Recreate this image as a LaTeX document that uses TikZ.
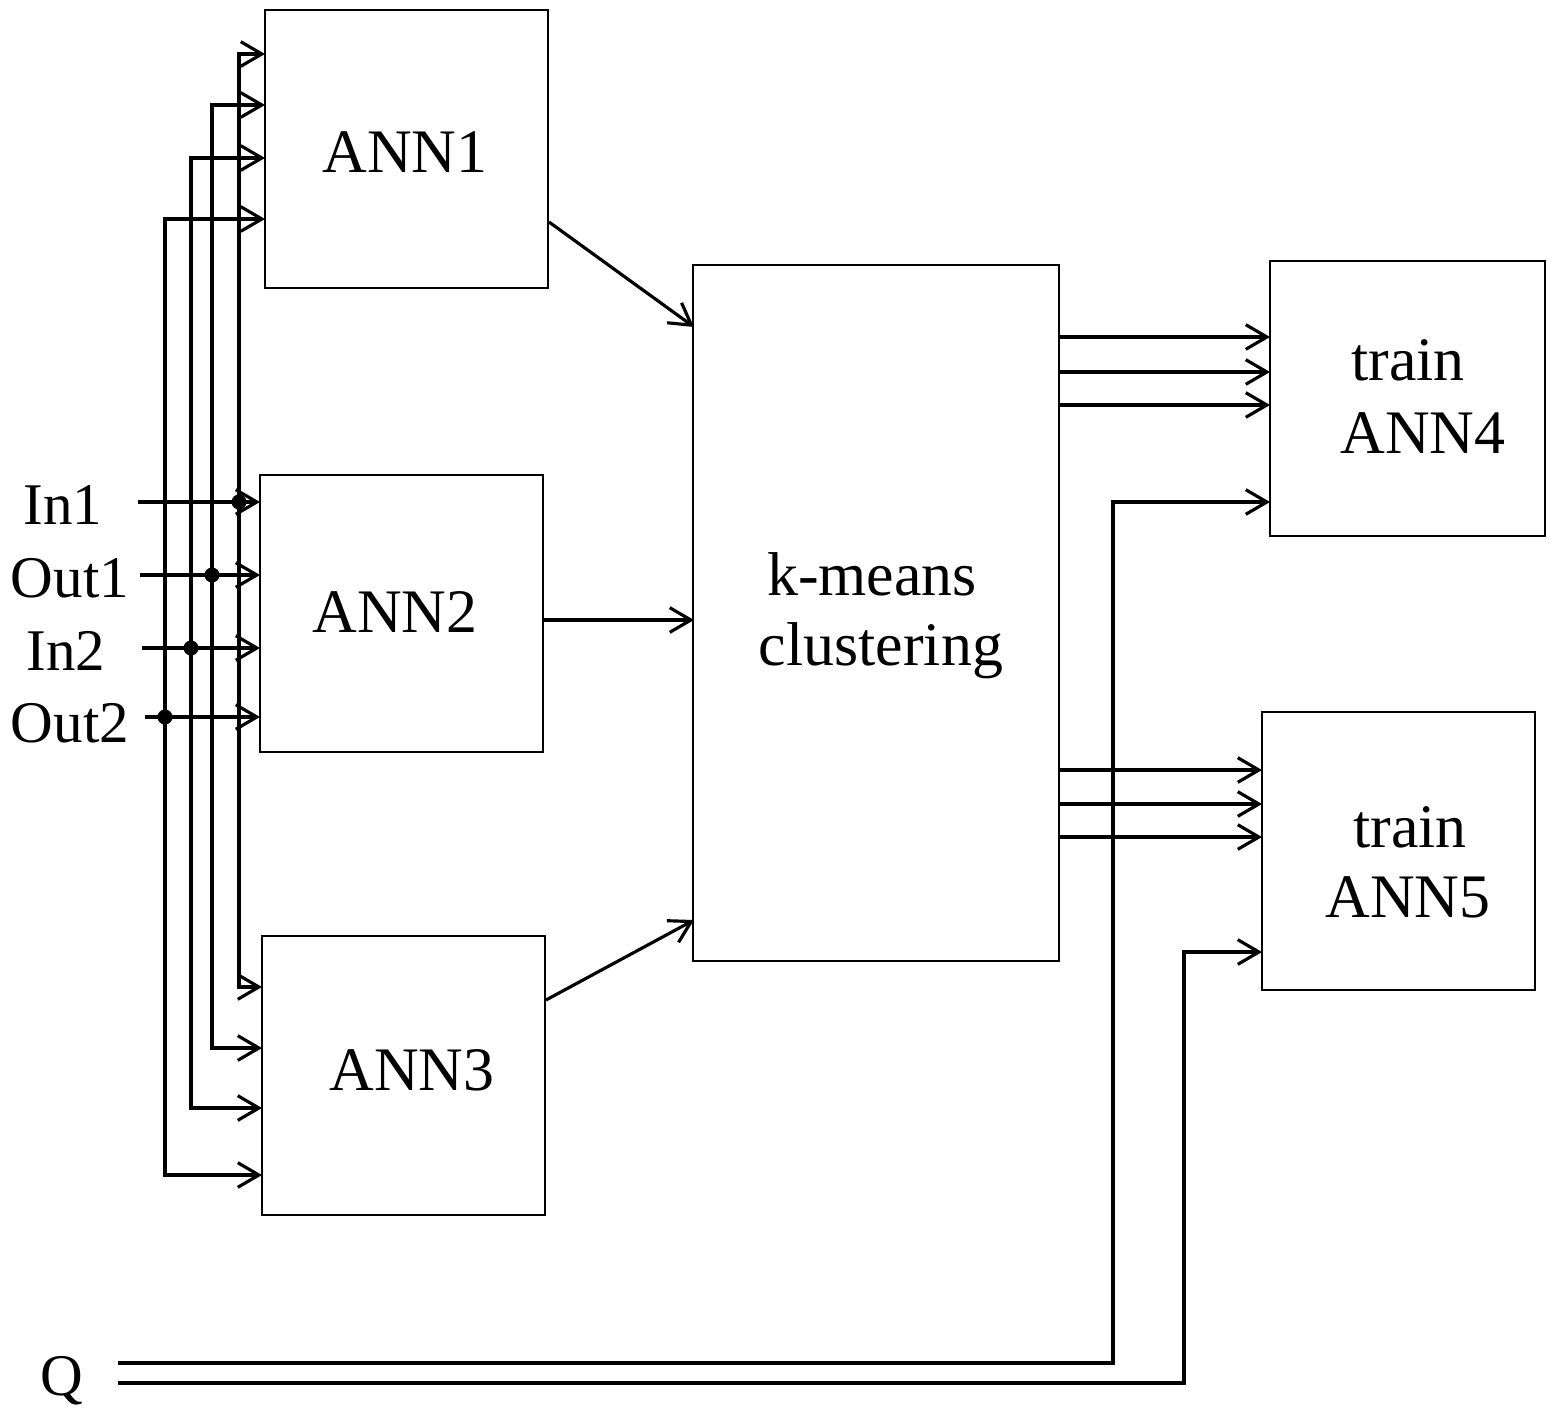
\documentclass[tikz,border=0pt]{standalone}
\usepackage{fontspec}
\setmainfont{Liberation Serif}
\usetikzlibrary{arrows.meta}
\begin{document}
\begin{tikzpicture}[x=0.01cm,y=-0.01cm,
  box/.style={draw, line width=0.7pt, inner sep=0pt},
  conn/.style={line width=0.9pt},
  arr/.style={conn, -{Straight Barb[length=6pt,width=7pt]}},
  lbl/.style={font=\fontsize{17.6}{20}\selectfont, anchor=base, inner sep=0pt},
  side/.style={font=\fontsize{16.8}{20}\selectfont, anchor=base, inner sep=0pt},
  dot/.style={circle, fill, inner sep=0pt, minimum size=0.15cm}]
\useasboundingbox (0,0) rectangle (1552,1409);

% boxes
\node[box, minimum width=2.83cm, minimum height=2.78cm] (ANN1) at (406.5,149) {};
\node[box, minimum width=2.83cm, minimum height=2.77cm] (ANN2) at (401.5,613.5) {};
\node[box, minimum width=2.83cm, minimum height=2.79cm] (ANN3) at (403.5,1075.5) {};
\node[box, minimum width=3.66cm, minimum height=6.96cm] (KM) at (876,613) {};
\node[box, minimum width=2.75cm, minimum height=2.75cm] (ANN4) at (1407.5,398.5) {};
\node[box, minimum width=2.73cm, minimum height=2.78cm] (ANN5) at (1398.5,851) {};

% box texts
\node[lbl] (tA1) at (405,172) {ANN1};
\node[lbl] (tA2) at (395,632) {ANN2};
\node[lbl] (tA3) at (412,1090) {ANN3};
\node[lbl] (tK1) at (872,595) {k-means};
\node[lbl] (tK2) at (881,665) {clustering};
\node[lbl] (tT4) at (1408,380) {train};
\node[lbl] (tA4) at (1423,453) {ANN4};
\node[lbl] (tT5) at (1410,847) {train};
\node[lbl] (tA5) at (1408,917) {ANN5};

% side labels
\node[side] (lIn1) at (63,524) {In1};
\node[side] (lOut1) at (70,597) {Out1};
\node[side] (lIn2) at (66,670) {In2};
\node[side] (lOut2) at (70,742) {Out2};
\node[side] (lQ) at (62,1395) {Q};

% input start points
\coordinate (s1) at (138,502);
\coordinate (s2) at (140,575);
\coordinate (s3) at (142,648);
\coordinate (s4) at (145,717);
% junctions
\coordinate (j1) at (239,502);
\coordinate (j2) at (212,575);
\coordinate (j3) at (191,648);
\coordinate (j4) at (165,717);
% ports ANN1
\coordinate (i11) at (265,54);
\coordinate (i12) at (265,105);
\coordinate (i13) at (265,158);
\coordinate (i14) at (265,219);
% ports ANN2
\coordinate (i21) at (260,502);
\coordinate (i22) at (260,575);
\coordinate (i23) at (260,648);
\coordinate (i24) at (260,717);
% ports ANN3
\coordinate (i31) at (262,987);
\coordinate (i32) at (262,1048);
\coordinate (i33) at (262,1108);
\coordinate (i34) at (262,1175);

\draw[arr] (s1) -- (i21);
\draw[arr] (s2) -- (i22);
\draw[arr] (s3) -- (i23);
\draw[arr] (s4) -- (i24);
\draw[arr] (j1) |- (i11);
\draw[arr] (j1) |- (i31);
\draw[arr] (j2) |- (i12);
\draw[arr] (j2) |- (i32);
\draw[arr] (j3) |- (i13);
\draw[arr] (j3) |- (i33);
\draw[arr] (j4) |- (i14);
\draw[arr] (j4) |- (i34);
\node[dot] (d1) at (j1) {};
\node[dot] (d2) at (j2) {};
\node[dot] (d3) at (j3) {};
\node[dot] (d4) at (j4) {};

% ANN -> k-means
\coordinate (o1) at (549,222);
\coordinate (k1) at (694,327);
\coordinate (o2) at (544,620);
\coordinate (k2) at (694,620);
\coordinate (o3) at (546,1000);
\coordinate (k3) at (694,920);
\draw[arr] (o1) -- (k1);
\draw[arr] (o2) -- (k2);
\draw[arr] (o3) -- (k3);

% k-means -> ANN4 / ANN5
\coordinate (p41) at (1270,337);
\coordinate (p42) at (1270,372);
\coordinate (p43) at (1270,405);
\coordinate (p44) at (1270,502);
\coordinate (p51) at (1262,770);
\coordinate (p52) at (1262,804);
\coordinate (p53) at (1262,837);
\coordinate (p54) at (1262,952);
\draw[arr] (KM.east |- p41) -- (p41);
\draw[arr] (KM.east |- p42) -- (p42);
\draw[arr] (KM.east |- p43) -- (p43);
\draw[arr] (KM.east |- p51) -- (p51);
\draw[arr] (KM.east |- p52) -- (p52);
\draw[arr] (KM.east |- p53) -- (p53);

% Q lines
\coordinate (q1) at (118,1363);
\coordinate (q2) at (118,1383);
\coordinate (v1) at (1113,502);
\coordinate (v2) at (1184,952);
\draw[arr] (q1) -| (v1) -- (p44);
\draw[arr] (q2) -| (v2) -- (p54);
\end{tikzpicture}
\end{document}
